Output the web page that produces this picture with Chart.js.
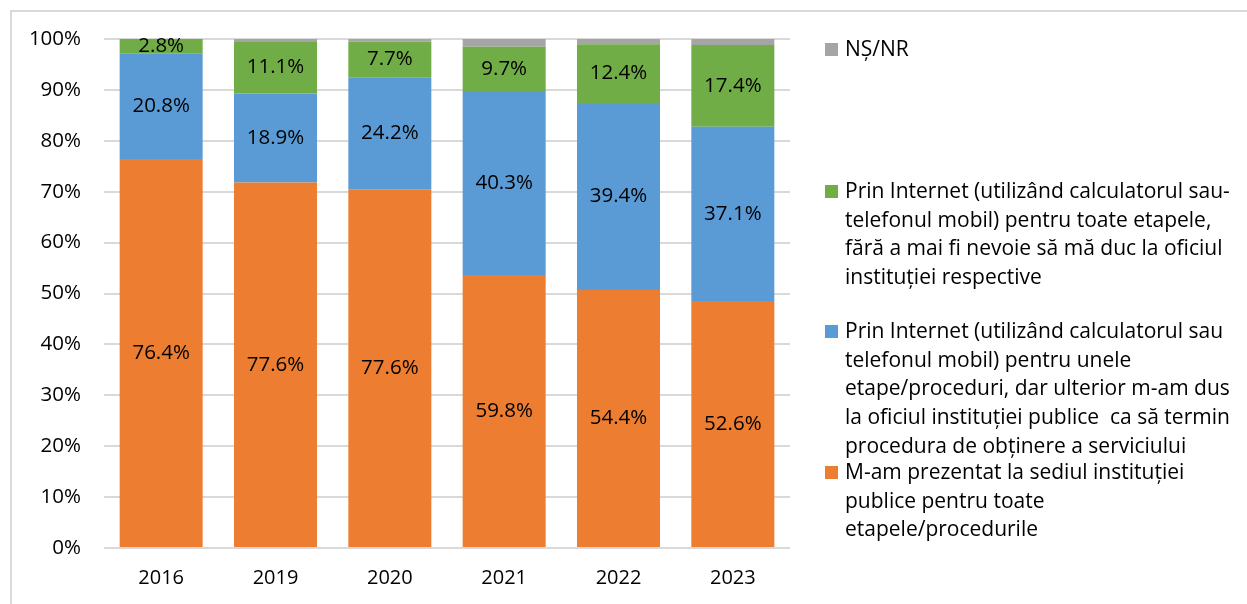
<!DOCTYPE html>
<html>
<head>
<meta charset="utf-8">
<script src="https://cdn.jsdelivr.net/npm/chart.js@4.4.1/dist/chart.umd.min.js"></script>
<style>
    html, body { margin: 0; padding: 0; background: #fff; }
    canvas { display: block; }
</style>
</head>
<body>
<canvas id="myChart" width="1247" height="604"></canvas>
<script>
// Categories (survey years)
const years = ['2016', '2019', '2020', '2021', '2022', '2023'];

// Raw values as printed on the bars (they do not always add up to 100)
const sediu = [76.4, 77.6, 77.6, 59.8, 54.4, 52.6];     // orange
const unele = [20.8, 18.9, 24.2, 40.3, 39.4, 37.1];     // blue
const toate = [2.8, 11.1, 7.7, 9.7, 12.4, 17.4];        // green
const nsnr = [0, 0.5, 0.6, 1.7, 1.1, 1.3];              // gray, no label

const yTicks = [0, 10, 20, 30, 40, 50, 60, 70, 80, 90, 100];

const seriesNames = [
    'M-am prezentat la sediul instituției publice pentru toate etapele/procedurile',
    'Prin Internet (utilizând calculatorul sau telefonul mobil) pentru unele etape/proceduri, dar ulterior m-am dus la oficiul instituției publice  ca să termin procedura de obținere a serviciului',
    'Prin Internet (utilizând calculatorul sau-telefonul mobil) pentru toate etapele, fără a mai fi nevoie să mă duc la oficiul instituției respective',
    'NȘ/NR'
];

// Legend text broken into lines like the original
const legendLines = [
    ['NȘ/NR'],
    ['Prin Internet (utilizând calculatorul sau-', 'telefonul mobil) pentru toate etapele,', 'fără a mai fi nevoie să mă duc la oficiul', 'instituției respective'],
    ['Prin Internet (utilizând calculatorul sau', 'telefonul mobil) pentru unele', 'etape/proceduri, dar ulterior m-am dus', 'la oficiul instituției publice  ca să termin', 'procedura de obținere a serviciului'],
    ['M-am prezentat la sediul instituției', 'publice pentru toate', 'etapele/procedurile']
];
const legendColors = ['#A5A5A5', '#70AD47', '#5B9BD5', '#ED7D31'];
const legendTops = [50, 192, 332, 473];

const FONT = '"Open Sans", "DejaVu Sans", sans-serif';

// 100% stacked: each bar is scaled to its own total
const totals = years.map((y, i) => sediu[i] + unele[i] + toate[i] + nsnr[i]);
function share(arr) {
    return arr.map((v, i) => v / totals[i] * 100);
}

const rawValues = [sediu, unele, toate, nsnr];

// Labels inside the segments (raw value, not the share)
const segmentLabels = {
    id: 'segmentLabels',
    afterDatasetsDraw(chart) {
        const ctx = chart.ctx;
        ctx.save();
        ctx.font = '20.5px ' + FONT;
        ctx.fillStyle = '#000';
        ctx.textAlign = 'center';
        ctx.textBaseline = 'middle';
        chart.data.datasets.forEach((ds, di) => {
            if (di === 3) return; // NȘ/NR is not labelled
            const meta = chart.getDatasetMeta(di);
            meta.data.forEach((bar, i) => {
                const v = rawValues[di][i];
                ctx.fillText(v.toFixed(1) + '%', bar.x, (bar.y + bar.base) / 2);
            });
        });
        ctx.restore();
    }
};

// Frame around the chart and the wrapped legend on the right
const frameAndLegend = {
    id: 'frameAndLegend',
    beforeDraw(chart) {
        const ctx = chart.ctx;
        ctx.save();
        ctx.strokeStyle = '#d9d9d9';
        ctx.lineWidth = 2;
        ctx.strokeRect(11, 11, 1400, 800);
        ctx.restore();
    },
    afterDraw(chart) {
        const ctx = chart.ctx;
        const left = chart.chartArea.right + 35;
        ctx.save();
        ctx.font = '21px ' + FONT;
        ctx.textBaseline = 'middle';
        ctx.textAlign = 'left';
        legendLines.forEach((lines, k) => {
            const top = legendTops[k];
            ctx.fillStyle = legendColors[k];
            ctx.fillRect(left, top - 7, 13, 13);
            ctx.fillStyle = '#000';
            lines.forEach((line, j) => {
                ctx.fillText(line, left + 20, top + j * 28.7);
            });
        });
        ctx.restore();
    }
};

const ctx = document.getElementById('myChart').getContext('2d');

const data = {
    labels: years,
    datasets: [
        { label: seriesNames[0], data: share(sediu), backgroundColor: '#ED7D31' },
        { label: seriesNames[1], data: share(unele), backgroundColor: '#5B9BD5' },
        { label: seriesNames[2], data: share(toate), backgroundColor: '#70AD47' },
        { label: seriesNames[3], data: share(nsnr), backgroundColor: '#A5A5A5' }
    ]
};

const myChart = new Chart(ctx, {
    type: 'bar',
    data: data,
    options: {
        responsive: false,
        animation: false,
        datasets: {
            bar: {
                categoryPercentage: 1,
                barPercentage: 0.726,
                borderWidth: 0
            }
        },
        layout: {
            padding: { left: 0, right: 457, top: 39, bottom: 0 }
        },
        plugins: {
            legend: { display: false },
            tooltip: { enabled: false },
            title: { display: false }
        },
        scales: {
            x: {
                stacked: true,
                grid: { display: false, drawTicks: false },
                border: { display: false },
                ticks: {
                    color: '#000',
                    font: { family: FONT, size: 20 },
                    padding: 18
                },
                afterFit(scale) { scale.height = 56; }
            },
            y: {
                stacked: true,
                min: 0,
                max: 100,
                afterBuildTicks(scale) {
                    scale.ticks = yTicks.map(v => ({ value: v }));
                },
                grid: { color: '#d9d9d9', lineWidth: 2, drawTicks: false },
                border: { display: false },
                ticks: {
                    color: '#000',
                    font: { family: FONT, size: 20.5 },
                    padding: 23,
                    callback: v => v + '%'
                },
                afterFit(scale) { scale.width = 104; }
            }
        }
    },
    plugins: [segmentLabels, frameAndLegend]
});
</script>
</body>
</html>
